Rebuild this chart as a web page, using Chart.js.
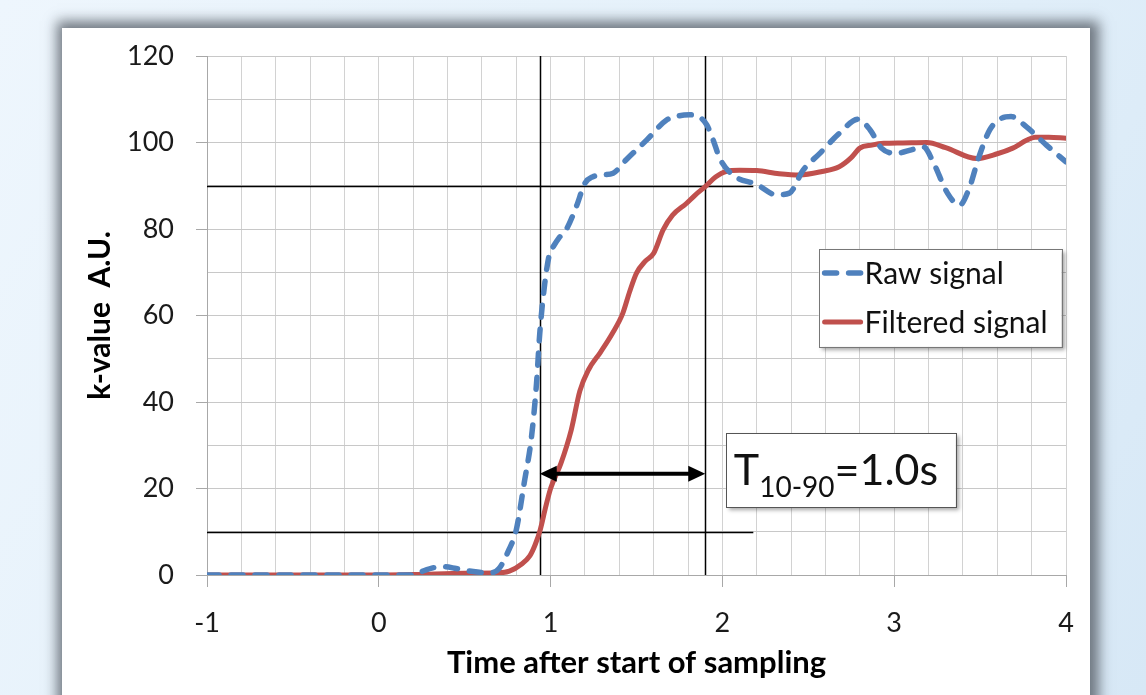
<!DOCTYPE html>
<html>
<head>
<meta charset="utf-8">
<script src="https://cdn.jsdelivr.net/npm/chart.js@4.4.1/dist/chart.umd.min.js"></script>
<style>
  html, body { margin: 0; padding: 0; }
  body {
    width: 1146px; height: 695px; overflow: hidden; position: relative;
    background: linear-gradient(120deg, #eef6fd 0%, #e3f0fa 55%, #d7e8f6 100%);
  }
  #panel {
    position: absolute; left: 62px; top: 28px; width: 1028px; height: 720px;
    background: #fff;
    box-shadow: 2px 0 12px 7px rgba(100, 108, 116, 0.9);
  }
  #chart { position: absolute; left: 0; top: 0; }
</style>
</head>
<body>
<div id="panel"></div>
<canvas id="chart" width="1146" height="695"></canvas>
<script>
// raw sensor signal (dashed blue)
const rawTime = [-1, 0, 0.2, 0.25, 0.32, 0.38, 0.45, 0.55, 0.65, 0.7, 0.757, 0.8, 0.846, 0.889, 0.918,
  0.937, 0.966, 0.995, 1.015, 1.05, 1.09, 1.15, 1.2, 1.247, 1.3, 1.364, 1.44, 1.56, 1.675, 1.75,
  1.81, 1.87, 1.91, 1.946, 1.985, 2.06, 2.2, 2.315, 2.39, 2.47, 2.567, 2.68, 2.79, 2.86, 2.926,
  3.01, 3.1, 3.17, 3.23, 3.31, 3.38, 3.44, 3.49, 3.556, 3.62, 3.68, 3.77, 3.886, 4.0];
const rawValue = [0, 0, 0, 0.8, 1.7, 1.9, 1.5, 0.8, 0.5, 1.5, 5.8, 10.4, 21.2, 32, 44.3,
  55.9, 67.4, 74.5, 75.9, 78, 79.8, 85.2, 90.6, 92.1, 92.5, 92.9, 96, 100.6, 105.2, 106.2,
  106.4, 105.8, 104, 100.6, 96.3, 92.5, 90.3, 87.9, 88.3, 93.6, 97.5, 102.1, 105.4, 102.9, 98.7,
  97.5, 98.3, 99, 95.2, 88.3, 85.5, 89.8, 96.3, 102.9, 105.5, 106, 103.6, 99.4, 95.5];

// filtered signal (solid red)
const filteredTime = [-1, -0.5, 0, 0.2, 0.5, 0.7, 0.76, 0.83, 0.88, 0.91, 0.94, 0.97, 1.0, 1.06,
  1.12, 1.17, 1.22, 1.29, 1.36, 1.42, 1.46, 1.5, 1.55, 1.6, 1.655, 1.71, 1.79, 1.84, 1.9, 1.96,
  2.02, 2.1, 2.2, 2.33, 2.45, 2.58, 2.68, 2.75, 2.8, 2.87, 2.94, 3.05, 3.19, 3.3, 3.48, 3.6,
  3.69, 3.77, 3.82, 3.9, 4.0];
const filteredValue = [0, 0, 0, 0.1, 0.4, 0.5, 0.9, 2.5, 4.5, 7, 10.5, 15.5, 20, 25.8,
  33.5, 42.5, 47.4, 51.5, 55.9, 60.5, 65.5, 69.8, 72.5, 74.4, 79.8, 83.2, 85.9, 87.8, 89.8, 92,
  93.3, 93.6, 93.5, 92.8, 92.5, 93.3, 94.4, 96.5, 98.7, 99.4, 99.8, 99.9, 100, 98.8, 96.3, 97.4,
  98.7, 100.5, 101.2, 101.2, 101];

const seriesNames = ['Raw signal', 'Filtered signal'];

// 10 % / 90 % levels and the times they are crossed
const levels = [10, 90];
const crossTimes = [0.937, 1.9];
const levelLineEnd = 2.18;
const arrowLevel = 23.4;
const riseLabel = { main: 'T', sub: '10-90', tail: '=1.0s' };

const toPoints = (xs, ys) => xs.map((t, i) => ({ x: t, y: ys[i] }));
const isWhole = v => Math.abs(v - Math.round(v)) < 1e-6;
const FONT = 'Lato, "Open Sans", sans-serif';

const overlay = {
  id: 'overlay',
  beforeDatasetsDraw(chart) {
    const { ctx, scales: { x, y } } = chart;
    ctx.save();
    ctx.strokeStyle = '#000';
    ctx.lineWidth = 1.5;
    crossTimes.forEach(t => {
      const px = Math.round(x.getPixelForValue(t)) + 0.5;
      ctx.beginPath();
      ctx.moveTo(px, y.getPixelForValue(y.min));
      ctx.lineTo(px, y.getPixelForValue(y.max));
      ctx.stroke();
    });
    levels.forEach(v => {
      const py = Math.round(y.getPixelForValue(v)) + 0.5;
      ctx.beginPath();
      ctx.moveTo(x.getPixelForValue(x.min), py);
      ctx.lineTo(x.getPixelForValue(levelLineEnd), py);
      ctx.stroke();
    });
    ctx.restore();
  },
  afterDatasetsDraw(chart) {
    const { ctx, scales: { x, y } } = chart;
    ctx.save();

    // double arrow between the two crossing times
    const ay = y.getPixelForValue(arrowLevel);
    const x1 = x.getPixelForValue(crossTimes[0]);
    const x2 = x.getPixelForValue(crossTimes[1]);
    const head = 17, half = 8;
    ctx.strokeStyle = '#000';
    ctx.fillStyle = '#000';
    ctx.lineWidth = 4;
    ctx.beginPath();
    ctx.moveTo(x1 + head - 2, ay);
    ctx.lineTo(x2 - head + 2, ay);
    ctx.stroke();
    ctx.beginPath();
    ctx.moveTo(x1, ay); ctx.lineTo(x1 + head, ay - half); ctx.lineTo(x1 + head, ay + half);
    ctx.closePath(); ctx.fill();
    ctx.beginPath();
    ctx.moveTo(x2, ay); ctx.lineTo(x2 - head, ay - half); ctx.lineTo(x2 - head, ay + half);
    ctx.closePath(); ctx.fill();

    // label box "T10-90=1.0s"
    const bigFont = '43px ' + FONT, subFont = '28px ' + FONT;
    const bx = x.getPixelForValue(2.02), bTop = y.getPixelForValue(32.8);
    const bw = 230, bh = 74;
    ctx.shadowColor = 'rgba(0,0,0,0.35)';
    ctx.shadowOffsetX = 3; ctx.shadowOffsetY = 3; ctx.shadowBlur = 4;
    ctx.fillStyle = '#fff';
    ctx.fillRect(bx, bTop, bw, bh);
    ctx.shadowColor = 'transparent';
    ctx.strokeStyle = '#555';
    ctx.lineWidth = 1;
    ctx.strokeRect(Math.round(bx) + 0.5, Math.round(bTop) + 0.5, bw, bh);
    ctx.fillStyle = '#111';
    ctx.textBaseline = 'alphabetic';
    const base = bTop + 52;
    let tx = bx + 8;
    ctx.font = bigFont; ctx.fillText(riseLabel.main, tx, base); tx += ctx.measureText(riseLabel.main).width;
    ctx.font = subFont; ctx.fillText(riseLabel.sub, tx, base + 12); tx += ctx.measureText(riseLabel.sub).width;
    ctx.font = bigFont; ctx.fillText(riseLabel.tail, tx, base);

    // legend box
    const lx = x.getPixelForValue(2.56), lTop = y.getPixelForValue(75.4);
    const lw = 243, lh = 98;
    ctx.shadowColor = 'rgba(0,0,0,0.35)';
    ctx.shadowOffsetX = 3; ctx.shadowOffsetY = 3; ctx.shadowBlur = 4;
    ctx.fillStyle = '#fff';
    ctx.fillRect(lx, lTop, lw, lh);
    ctx.shadowColor = 'transparent';
    ctx.strokeStyle = '#777';
    ctx.lineWidth = 1;
    ctx.strokeRect(Math.round(lx) + 0.5, Math.round(lTop) + 0.5, lw, lh);
    ctx.font = '30px ' + FONT;
    ctx.textBaseline = 'middle';
    chart.data.datasets.forEach((ds, i) => {
      const ry = lTop + 24 + i * 49;
      ctx.strokeStyle = ds.borderColor;
      ctx.lineWidth = ds.borderWidth;
      ctx.lineCap = ds.borderCapStyle || 'butt';
      ctx.setLineDash(ds.borderDash || []);
      ctx.beginPath();
      ctx.moveTo(lx + 6, ry);
      ctx.lineTo(lx + 42, ry);
      ctx.stroke();
      ctx.setLineDash([]);
      ctx.fillStyle = '#111';
      ctx.fillText(ds.label, lx + 46, ry + 1);
    });
    ctx.restore();
  }
};

new Chart(document.getElementById('chart'), {
  type: 'line',
  data: {
    datasets: [{
      label: seriesNames[0],
      data: toPoints(rawTime, rawValue),
      borderColor: '#4f81bd',
      borderWidth: 5.5,
      borderDash: [12, 12],
      borderCapStyle: 'round',
      pointRadius: 0,
      cubicInterpolationMode: 'monotone',
      fill: false
    }, {
      label: seriesNames[1],
      data: toPoints(filteredTime, filteredValue),
      borderColor: '#c0504d',
      borderWidth: 5,
      borderCapStyle: 'round',
      pointRadius: 0,
      cubicInterpolationMode: 'monotone',
      fill: false
    }]
  },
  options: {
    responsive: false,
    animation: false,
    devicePixelRatio: 1,
    layout: { padding: { left: 80, right: 80, top: 56, bottom: 10 } },
    plugins: { legend: { display: false }, tooltip: { enabled: false } },
    scales: {
      x: {
        type: 'linear',
        min: -1, max: 4,
        afterFit(scale) { scale.height = 110; },
        ticks: {
          stepSize: 0.2, autoSkip: false, maxRotation: 0, padding: 20,
          color: '#1a1a1a', font: { family: FONT, size: 27 },
          callback: v => isWhole(v) ? String(Math.round(v)) : ''
        },
        grid: {
          color: '#d2d2d2', lineWidth: 1, tickLength: 12,
          tickColor: c => isWhole(c.tick.value) ? '#a8a8a8' : 'rgba(0,0,0,0)'
        },
        border: { color: '#a8a8a8' },
        title: {
          display: true, text: 'Time after start of sampling', color: '#000',
          font: { family: FONT, size: 31, weight: 'bold' }, padding: { top: 0, bottom: 3 }
        }
      },
      y: {
        min: 0, max: 120,
        afterFit(scale) { scale.width = 127; },
        ticks: {
          stepSize: 10, padding: 22,
          color: '#1a1a1a', font: { family: FONT, size: 27 },
          callback: v => v % 20 === 0 ? String(v) : ''
        },
        grid: {
          color: '#c8c8c8', lineWidth: 1, tickLength: 11,
          tickColor: c => c.tick.value % 20 === 0 ? '#a8a8a8' : 'rgba(0,0,0,0)'
        },
        border: { color: '#a8a8a8' },
        title: {
          display: true, text: 'k-value  A.U.', color: '#000',
          font: { family: FONT, size: 30, weight: 'bold' }, padding: { top: 2, bottom: 0 }
        }
      }
    }
  },
  plugins: [overlay]
});
</script>
</body>
</html>
